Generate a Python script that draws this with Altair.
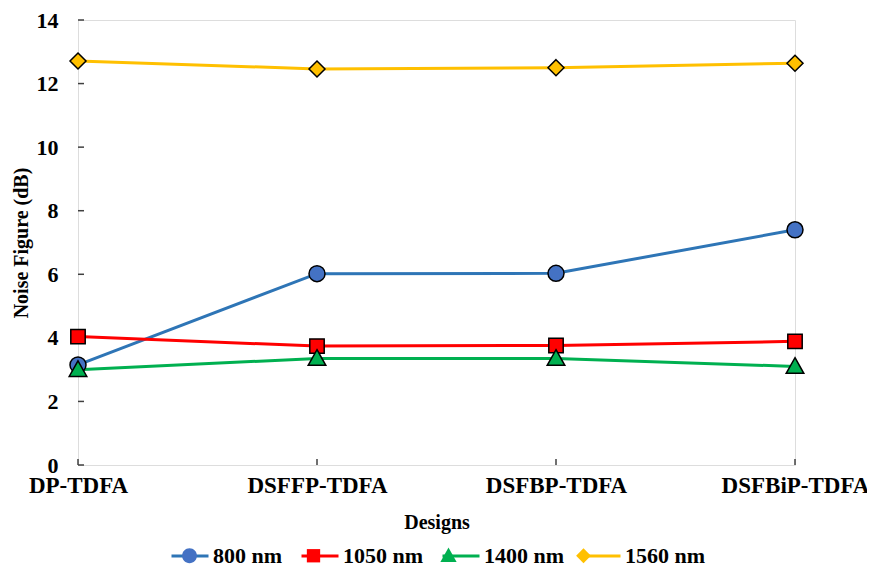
import altair as alt
import pandas as pd

designs = ["DP-TDFA", "DSFFP-TDFA", "DSFBP-TDFA", "DSFBiP-TDFA"]
series = ["800 nm", "1050 nm", "1400 nm", "1560 nm"]
nf_800 = [3.15, 6.02, 6.03, 7.40]
nf_1050 = [4.04, 3.74, 3.76, 3.89]
nf_1400 = [3.00, 3.35, 3.35, 3.10]
nf_1560 = [12.71, 12.46, 12.50, 12.64]
y_ticks = [0, 2, 4, 6, 8, 10, 12, 14]

line_colors = ["#2E75B6", "#FF0000", "#00B050", "#FFC000"]
fill_colors = ["#4472C4", "#FF0000", "#00B050", "#FFC000"]
shape_paths = [
    "M0.4,0A0.4,0.4,0,1,1,-0.4,0A0.4,0.4,0,1,1,0.4,0Z",
    "M-0.36,-0.36H0.36V0.36H-0.36Z",
    "M0,-0.44L0.44,0.34H-0.44Z",
    "M0,-0.4L0.4,0L0,0.4L-0.4,0Z",
]

# marker legend keys: same names with an invisible zero-width suffix so the
# marker legend stays separate from the line legend and can be overlaid on it
ZW = "\u200b"
series_m = [s + ZW for s in series]

rows = []
for s, sm, vals in zip(series, series_m, [nf_800, nf_1050, nf_1400, nf_1560]):
    for i, (d, v) in enumerate(zip(designs, vals)):
        rows.append({"Design": d, "Idx": i, "Series": s, "SeriesM": sm, "Value": v})
df = pd.DataFrame(rows)
ytick_df = pd.DataFrame({"Value": y_ticks})
xtick_df = pd.DataFrame({"Design": designs})

FONT = "Liberation Serif"
AX = "#404040"

x_enc = alt.X(
    "Design:N", sort=designs,
    scale=alt.Scale(type="point", padding=0, domain=designs),
    axis=alt.Axis(title="Designs", labelAngle=0, ticks=False, domain=False, grid=False,
                  labelPadding=20, titlePadding=15, labelFontSize=23, titleFontSize=20,
                  labelFont=FONT, titleFont=FONT, labelFontWeight="bold",
                  titleFontWeight="bold", labelColor="black", titleColor="black",
                  labelFlush=False, labelAlign="center", labelOverlap=False,
                  labelBound=False),
)
y_enc = alt.Y(
    "Value:Q",
    scale=alt.Scale(domain=[0, 14], nice=False),
    axis=alt.Axis(title="Noise Figure (dB)", values=y_ticks, ticks=False, domain=False,
                  grid=False, labelPadding=20, titlePadding=5, labelFontSize=22,
                  titleFontSize=20, labelFont=FONT, titleFont=FONT,
                  labelFontWeight="bold", titleFontWeight="bold",
                  labelColor="black", titleColor="black", labelFlush=False),
)

common_legend = dict(
    orient="none", legendX=92, legendY=516, direction="horizontal", title=None,
    symbolSize=1369, labelOffset=3, columnPadding=12, padding=0,
    labelFont=FONT, labelFontSize=22, labelFontWeight="bold", labelLimit=0,
)

ytick_layer = alt.Chart(ytick_df).mark_rule(color=AX, strokeWidth=1.5).encode(
    y=alt.Y("Value:Q"), x=alt.value(0), x2=alt.value(6)
)
xtick_layer = alt.Chart(xtick_df).mark_rule(color=AX, strokeWidth=1.5).encode(
    x=alt.X("Design:N", sort=designs), y=alt.value(445), y2=alt.value(439)
)

lines = alt.Chart(df).mark_line(strokeWidth=3).encode(
    x=x_enc, y=y_enc,
    stroke=alt.Stroke("Series:N",
                      scale=alt.Scale(domain=series, range=line_colors),
                      legend=alt.Legend(symbolType="stroke", symbolStrokeWidth=3,
                                        labelColor="black", **common_legend)),
    order=alt.Order("Idx:Q"),
)

# marker legend: labels measured the same (zero-width char stripped) but not drawn
pt_legend = alt.Legend(symbolStrokeColor="black", symbolStrokeWidth=1.5,
                       labelOpacity=0, labelColor="#ffffff00",
                       labelExpr="replace(datum.label, '" + ZW + "', '')",
                       **common_legend)
points = alt.Chart(df).mark_point(filled=True, size=1600, stroke="black",
                                  strokeWidth=1.5, opacity=1).encode(
    x=alt.X("Design:N", sort=designs),
    y=alt.Y("Value:Q"),
    fill=alt.Fill("SeriesM:N",
                  scale=alt.Scale(domain=series_m, range=fill_colors), legend=pt_legend),
    shape=alt.Shape("SeriesM:N",
                    scale=alt.Scale(domain=series_m, range=shape_paths), legend=pt_legend),
)

chart = alt.layer(ytick_layer, xtick_layer, lines, points).properties(
    width=717, height=445,
    padding={"left": 70, "top": 12, "right": 72, "bottom": 99},
    autosize=alt.AutoSizeParams(type="none"),
).configure_view(stroke=AX, strokeWidth=1.5).configure(
    font=FONT
).configure_legend(
    labelFont=FONT, labelFontSize=22, labelFontWeight="bold"
)

chart.save("out.html", embed_options={"renderer": "svg", "actions": False})
